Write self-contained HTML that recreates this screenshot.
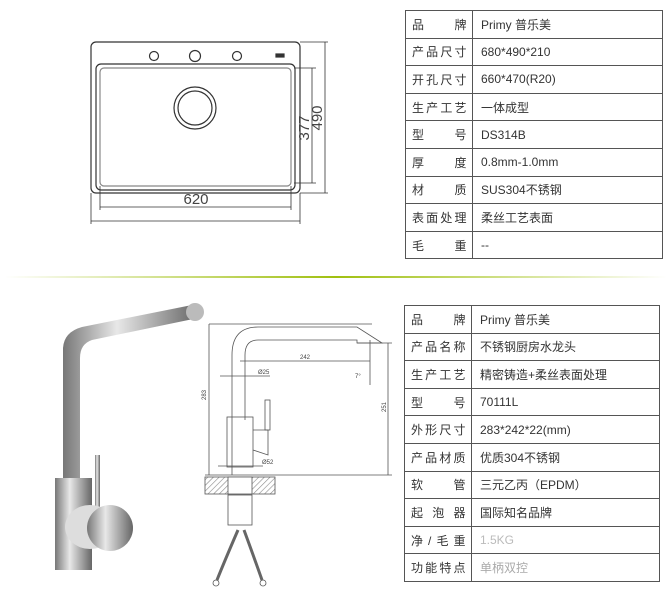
<!DOCTYPE html>
<html><head><meta charset="utf-8"><style>
html,body{margin:0;padding:0;background:#fff;}
body{width:672px;height:600px;position:relative;overflow:hidden;font-family:"Liberation Sans","Noto Sans CJK SC",sans-serif;}
table{position:absolute;border-collapse:collapse;font-size:12px;color:#333;}
td{border:1px solid #555;padding:0 0 0 8px;height:26.6px;}
td.k{width:54px;padding:0 6px;text-align:justify;text-align-last:justify;letter-spacing:-0.5px;}
.sep{position:absolute;left:5px;top:276px;width:662px;height:2px;background:linear-gradient(90deg,rgba(170,200,30,0),#a0c010 50%,rgba(170,200,30,0));}
</style></head><body>
<table style="left:405px;top:10px;width:258px;">
<tr><td class="k">品　牌</td><td>Primy 普乐美</td></tr>
<tr><td class="k">产品尺寸</td><td>680*490*210</td></tr>
<tr><td class="k">开孔尺寸</td><td>660*470(R20)</td></tr>
<tr><td class="k">生产工艺</td><td>一体成型</td></tr>
<tr><td class="k">型　号</td><td>DS314B</td></tr>
<tr><td class="k">厚　度</td><td>0.8mm-1.0mm</td></tr>
<tr><td class="k">材　质</td><td>SUS304不锈钢</td></tr>
<tr><td class="k">表面处理</td><td>柔丝工艺表面</td></tr>
<tr><td class="k">毛　重</td><td>--</td></tr>
</table>
<div class="sep"></div>
<table style="left:404px;top:305px;width:256px;">
<tr><td class="k">品　牌</td><td>Primy 普乐美</td></tr>
<tr><td class="k">产品名称</td><td>不锈钢厨房水龙头</td></tr>
<tr><td class="k">生产工艺</td><td>精密铸造+柔丝表面处理</td></tr>
<tr><td class="k">型　号</td><td>70111L</td></tr>
<tr><td class="k">外形尺寸</td><td>283*242*22(mm)</td></tr>
<tr><td class="k">产品材质</td><td>优质304不锈钢</td></tr>
<tr><td class="k">软　管</td><td>三元乙丙（EPDM）</td></tr>
<tr><td class="k">起泡器</td><td>国际知名品牌</td></tr>
<tr><td class="k">净/毛重</td><td style="color:#bbb">1.5KG</td></tr>
<tr><td class="k">功能特点</td><td style="color:#aaa">单柄双控</td></tr>
</table>
<svg width="672" height="600" style="position:absolute;left:0;top:0" fill="none" stroke="#333" stroke-width="1.2">
<defs>
<linearGradient id="m" x1="0" x2="1"><stop offset="0" stop-color="#777"/><stop offset="0.4" stop-color="#e8e8e8"/><stop offset="1" stop-color="#666"/></linearGradient>
<pattern id="h" width="4" height="4" patternUnits="userSpaceOnUse" patternTransform="rotate(45)"><line x1="0" y1="0" x2="0" y2="4" stroke="#888"/></pattern>
</defs>
<rect x="91" y="42" width="209" height="151" rx="5"/>
<rect x="96" y="64" width="199" height="126" rx="5"/>
<rect x="100" y="68" width="191" height="118" rx="4" stroke="#888"/>
<circle cx="154" cy="56" r="4.5"/><circle cx="195" cy="56" r="5.5"/><circle cx="237" cy="56" r="4.5"/>
<rect x="276" y="54" width="8" height="3" fill="#333"/>
<circle cx="195" cy="108" r="21"/><circle cx="195" cy="108" r="17"/>
<g stroke-width="0.8">
<line x1="300" y1="42" x2="328" y2="42"/><line x1="300" y1="193" x2="328" y2="193"/>
<line x1="325" y1="42" x2="325" y2="193"/>
<line x1="294" y1="68" x2="316" y2="68"/><line x1="294" y1="183" x2="316" y2="183"/>
<line x1="312" y1="68" x2="312" y2="183"/>
<line x1="100" y1="186" x2="100" y2="210"/><line x1="291" y1="186" x2="291" y2="210"/>
<line x1="100" y1="207" x2="291" y2="207"/>
<line x1="91" y1="193" x2="91" y2="224"/><line x1="300" y1="193" x2="300" y2="224"/>
<line x1="91" y1="221" x2="300" y2="221"/>
</g>
<text x="305" y="128" transform="rotate(-90 305 128)" font-size="15" fill="#444" stroke="none" text-anchor="middle" dominant-baseline="middle">377</text>
<text x="318" y="118" transform="rotate(-90 318 118)" font-size="15" fill="#444" stroke="none" text-anchor="middle" dominant-baseline="middle">490</text>
<text x="196" y="204" font-size="15" fill="#444" stroke="none" text-anchor="middle">620</text>
<path d="M63 348 Q64 332 82 327 L192 305 L198 318 L92 340 Q80 344 80 358 L80 480 L63 480 Z" fill="url(#m)" stroke="none"/>
<ellipse cx="195" cy="312" rx="9" ry="9" fill="#bbb" stroke="none"/>
<rect x="55" y="478" width="37" height="92" fill="url(#m)" stroke="none"/>
<rect x="95" y="455" width="5" height="60" fill="url(#m)" stroke="none"/>
<ellipse cx="90" cy="527" rx="25" ry="22" fill="#ddd" stroke="none"/>
<circle cx="110" cy="528" r="23" fill="url(#m)" stroke="none"/>
<g stroke="#555" stroke-width="0.8">
<line x1="209" y1="324" x2="372" y2="324"/>
<line x1="209" y1="324" x2="209" y2="475"/>
<path d="M232 475 L232 355 Q232 327 258 327 L357 327 L382 343 L357 343 L357 340 L258 340 Q245 340 245 355 L245 420"/>
<rect x="227" y="417" width="26" height="50"/>
<path d="M253 430 L268 430 L268 455 L253 450"/>
<rect x="265" y="400" width="5" height="30"/>
<line x1="240" y1="361" x2="370" y2="361"/>
<line x1="370" y1="340" x2="370" y2="385"/>
<line x1="220" y1="376" x2="270" y2="376"/>
<line x1="218" y1="466" x2="263" y2="466"/>
<line x1="357" y1="343" x2="392" y2="343"/>
<line x1="388" y1="343" x2="388" y2="475"/>
<line x1="205" y1="475" x2="392" y2="475"/>
<rect x="205" y="477" width="70" height="17" fill="url(#h)"/>
<rect x="228" y="477" width="24" height="17" fill="#fff"/>
<rect x="228" y="495" width="24" height="30"/>
<path d="M238 530 Q225 560 217 580 M244 530 Q255 560 262 580" stroke-width="3" stroke="#666"/>
<circle cx="216" cy="583" r="3"/><circle cx="263" cy="583" r="3"/>
</g>
<g fill="#444" stroke="none" font-size="6">
<text x="305" y="359" text-anchor="middle">242</text>
<text x="258" y="374">Ø25</text>
<text x="262" y="464">Ø52</text>
<text x="355" y="378">7°</text>
<text x="206" y="400" transform="rotate(-90 206 400)">283</text>
<text x="386" y="412" transform="rotate(-90 386 412)">251</text>
</g>
</svg>
</body></html>
